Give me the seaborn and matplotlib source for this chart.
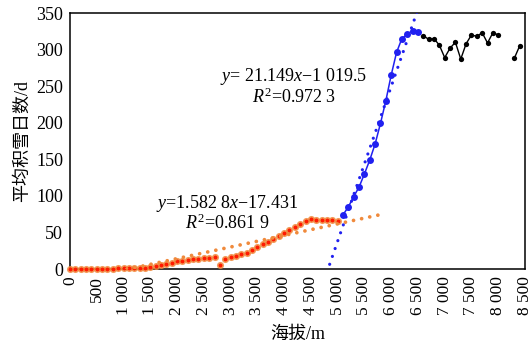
import numpy as np
import pandas as pd
import matplotlib
matplotlib.use("Agg")
import matplotlib.pyplot as plt
import seaborn as sns

# ---------------- data ----------------
low_elev = [0, 100, 200, 300, 400, 500, 600, 700, 800, 900,
            1000, 1100, 1200, 1300, 1400, 1500, 1600, 1700, 1800, 1900,
            2000, 2100, 2200, 2300, 2400, 2500, 2600, 2700, 2800, 2900,
            3000, 3100, 3200, 3300, 3400, 3500, 3600, 3700, 3800, 3900,
            4000, 4100, 4200, 4300, 4400, 4500, 4600, 4700, 4800, 4900, 5000]
low_days = [0.5, 0.5, 0.5, 0.5, 0.5, 0.5, 0.5, 0.5, 0.6, 0.7,
            0.8, 0.9, 1.0, 1.2, 1.6, 2.7, 4.0, 6.0, 7.4, 8.7,
            10.5, 11.5, 12.3, 13.2, 14.0, 15.0, 15.6, 16.0, 5.0, 14.0,
            16.0, 17.8, 20.0, 22.4, 25.5, 29.5, 33.5, 37.5, 41.5, 45.5,
            49.5, 53.5, 57.5, 62.0, 66.0, 68.0, 67.5, 67.0, 67.0, 67.0, 66.0]

mid_elev = [5100, 5200, 5300, 5400, 5500, 5600, 5700, 5800, 5900, 6000,
            6100, 6200, 6300, 6400, 6500]
mid_days = [74, 85, 99, 112, 130, 149, 171, 199, 230, 265,
            296, 315, 321, 326, 324]

high_elev = [6600, 6700, 6800, 6900, 7000, 7100, 7200, 7300, 7400, 7500,
             7600, 7700, 7800, 7900, 8000, 8300, 8400]
high_days = [319, 314, 315, 306, 289, 302, 310, 287, 308, 320,
             318, 323, 309, 323, 320, 288, 305]
high_segment = [1] * 15 + [2] * 2

# linear trends (x = elevation / 100)
low_slope, low_intercept = 1.5828, -17.431
mid_slope, mid_intercept = 21.149, -1019.5
low_trend_range = [0, 5900]
mid_trend_range = [4800, 6700]

xticks = [0, 500, 1000, 1500, 2000, 2500, 3000, 3500, 4000, 4500,
          5000, 5500, 6000, 6500, 7000, 7500, 8000, 8500]
xtick_labels = ["0", "500", "1 000", "1 500", "2 000", "2 500", "3 000",
                "3 500", "4 000", "4 500", "5 000", "5 500", "6 000",
                "6 500", "7 000", "7 500", "8 000", "8 500"]
yticks = [0, 50, 100, 150, 200, 250, 300, 350]

eq_mid = ["$\\mathit{y}$= 21.149$\\mathit{x}$\u22121 019.5", "$\\mathit{R}^{2}$=0.972 3"]
eq_low = ["$\\mathit{y}$=1.582 8$\\mathit{x}$\u221217.431", "$\\mathit{R}^{2}$=0.861 9"]

# ---------------- style ----------------
sns.set_theme(style="white")
plt.rcParams["font.family"] = ["Liberation Serif", "Noto Sans CJK SC"]
plt.rcParams["mathtext.fontset"] = "custom"
plt.rcParams["mathtext.rm"] = "Liberation Serif"
plt.rcParams["mathtext.it"] = "Liberation Serif:italic"
plt.rcParams["axes.unicode_minus"] = True

ORANGE = "#F08A3C"
RED = "#FF1A00"
BLUE = "#2020F0"

fig = plt.figure(figsize=(5.32, 3.49), dpi=100)
ax = fig.add_axes([70 / 532, 1 - 269 / 349, 455 / 532, 256 / 349])

df_low = pd.DataFrame({"elev": low_elev, "days": low_days})
df_mid = pd.DataFrame({"elev": mid_elev, "days": mid_days})
df_high = pd.DataFrame({"elev": high_elev, "days": high_days, "seg": high_segment})

# low series: orange halo with red centre
sns.scatterplot(data=df_low, x="elev", y="days", ax=ax, s=26, color=ORANGE,
                alpha=0.85, linewidth=0, zorder=3, clip_on=False)
sns.scatterplot(data=df_low, x="elev", y="days", ax=ax, s=8, color=RED,
                linewidth=0, zorder=4, clip_on=False)

# mid series: blue line with markers
sns.lineplot(data=df_mid, x="elev", y="days", ax=ax, color=BLUE, lw=1.1,
             marker="o", markersize=5.0, markeredgewidth=0, zorder=5)

# high series: black line with markers (gap)
sns.lineplot(data=df_high, x="elev", y="days", units="seg", estimator=None,
             ax=ax, color="black", lw=1.0, marker="o", markersize=3.8,
             markeredgewidth=0, zorder=5)

# trend lines (dotted)
tl = np.linspace(low_trend_range[0], low_trend_range[1], 300)
df_tl = pd.DataFrame({"elev": tl, "days": low_slope * tl / 100 + low_intercept})
sns.lineplot(data=df_tl, x="elev", y="days", ax=ax, color=ORANGE,
             lw=2.7, linestyle=(0, (0.01, 2.2)), dash_capstyle="round", zorder=6)

tm = np.linspace(mid_trend_range[0], mid_trend_range[1], 300)
df_tm = pd.DataFrame({"elev": tm, "days": mid_slope * tm / 100 + mid_intercept})
sns.lineplot(data=df_tm, x="elev", y="days", ax=ax, color=BLUE,
             lw=2.3, linestyle=(0, (0.01, 2.6)), dash_capstyle="round", zorder=6)

ax.set_xlim(0, 8500)
ax.set_ylim(0, 350)
ax.set_xticks(xticks)
ax.set_xticklabels(xtick_labels, rotation=90, fontsize=12.5)
ax.set_yticks(yticks)
ax.set_yticklabels([str(v) for v in yticks], fontsize=13)
ax.tick_params(axis="both", direction="in", length=4, width=1, color="black",
               pad=5, labelcolor="black")
for side in ["left", "bottom", "top", "right"]:
    ax.spines[side].set_visible(True)
    ax.spines[side].set_color("black")
    ax.spines[side].set_linewidth(1.1)

ax.set_xlabel("海拔/m", fontsize=13, color="black", labelpad=8)
ax.set_ylabel("平均积雪日数/d", fontsize=13, color="black", labelpad=4)

ax.text(4185, 263, eq_mid[0], fontsize=13, ha="center", va="center", color="black")
ax.text(4185, 235, eq_mid[1], fontsize=13, ha="center", va="center", color="black")
ax.text(2942, 90, eq_low[0], fontsize=13, ha="center", va="center", color="black")
ax.text(2942, 63, eq_low[1], fontsize=13, ha="center", va="center", color="black")

ax.grid(False)
fig.savefig("out.png", dpi=100, facecolor="white")
